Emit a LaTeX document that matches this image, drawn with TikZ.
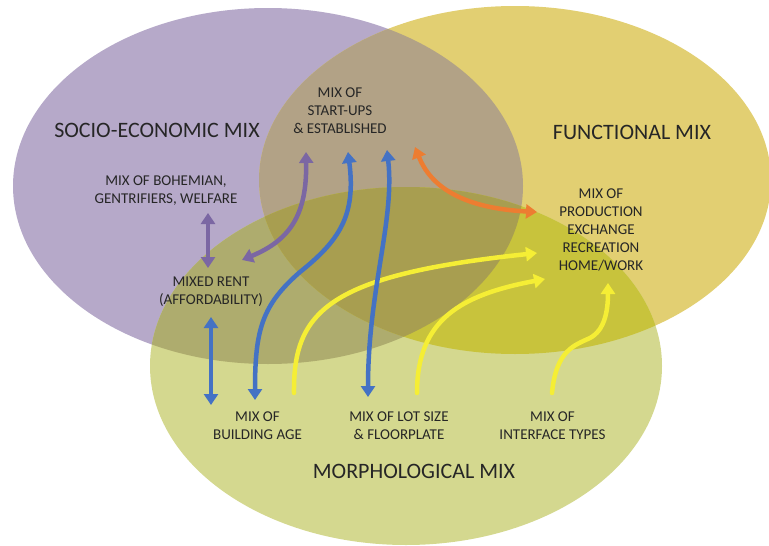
\documentclass[tikz,border=0pt]{standalone}
\usepackage{fontspec}
\setmainfont{Carlito}
\usetikzlibrary{arrows.meta}
\definecolor{cP}{HTML}{B6A9C9}
\definecolor{cY}{HTML}{E2CF72}
\definecolor{cG}{HTML}{D4D88F}
\definecolor{cPY}{HTML}{B2A286}
\definecolor{cPG}{HTML}{AEAC6E}
\definecolor{cYG}{HTML}{C8C33C}
\definecolor{cPYG}{HTML}{A89E50}
\definecolor{arP}{HTML}{7B67A3}
\definecolor{arB}{HTML}{4472C4}
\definecolor{arO}{HTML}{ED7D31}
\definecolor{arY}{HTML}{F5EE35}
\definecolor{txt}{HTML}{262626}
\begin{document}
\begin{tikzpicture}[x=1pt,y=-1pt,
  lbl/.style={font=\fontsize{15}{18}\selectfont, align=center, text=txt, inner sep=0pt},
  big/.style={font=\fontsize{22}{26}\selectfont, text=txt, inner sep=0pt},
  conn/.style={line width=4.5pt},
  dbl/.style={conn, {Triangle[width=14pt,length=11pt]}-{Triangle[width=14pt,length=11pt]}},
  sgl/.style={conn, line cap=round, -{Triangle[width=14pt,length=11pt]}}]
\useasboundingbox (0,0) rectangle (769,546);
\def\ellP{(268,186) ellipse [x radius=255, y radius=178]}
\def\ellY{(515,180) ellipse [x radius=256, y radius=174]}
\def\ellG{(406,366) ellipse [x radius=256, y radius=179]}
% circles
\fill[cP] \ellP;
\fill[cY] \ellY;
\fill[cG] \ellG;
\begin{scope}\clip \ellP; \fill[cPY] \ellY; \fill[cPG] \ellG; \end{scope}
\begin{scope}\clip \ellY; \fill[cYG] \ellG; \end{scope}
\begin{scope}\clip \ellP; \clip \ellY; \fill[cPYG] \ellG; \end{scope}
% titles
\node[big] (se) at (157,130) {SOCIO-ECONOMIC MIX};
\node[big] (fm) at (632,132) {FUNCTIONAL MIX};
\node[big] (mm) at (414,471) {MORPHOLOGICAL MIX};
% labels
\node[lbl] (su) at (340,111) {MIX OF\\START-UPS\\\& ESTABLISHED};
\node[lbl] (bo) at (166,191) {MIX OF BOHEMIAN,\\GENTRIFIERS, WELFARE};
\node[lbl] (mr) at (211,292) {MIXED RENT\\(AFFORDABILITY)};
\node[lbl] (pr) at (601,230) {MIX OF\\PRODUCTION\\EXCHANGE\\RECREATION\\HOME/WORK};
\node[lbl] (ba) at (257.5,426) {MIX OF\\BUILDING AGE};
\node[lbl] (ls) at (399,426) {MIX OF LOT SIZE\\\& FLOORPLATE};
\node[lbl] (it) at (552.5,426) {MIX OF\\INTERFACE TYPES};
% connector ends
\coordinate (a1s) at (208,213); \coordinate (a1e) at (208,268);
\coordinate (a2s) at (306,152); \coordinate (a2e) at (242,260);
\coordinate (a3s) at (211,317); \coordinate (a3e) at (211,405);
\coordinate (a4s) at (348,152); \coordinate (a4m) at (300,272); \coordinate (a4e) at (255,400);
\coordinate (a5s) at (387,150); \coordinate (a5e) at (368,397);
\coordinate (a6s) at (415,147); \coordinate (a6e) at (537,212);
\coordinate (a7s) at (294,393); \coordinate (a7e) at (537,253);
\coordinate (a8s) at (417,393); \coordinate (a8e) at (545,279);
\coordinate (a9s) at (552,393); \coordinate (a9m) at (590,338); \coordinate (a9e) at (608,283);
% connectors
\draw[dbl, arP] (a1s) -- (a1e);
\draw[dbl, arP] (a2s) .. controls (307,215) and (290,240) .. (a2e);
\draw[sgl, arY] (a7s) .. controls (293,310) and (330,275) .. (a7e);
\draw[sgl, arY] (a8s) .. controls (417,320) and (460,295) .. (a8e);
\draw[sgl, arY] (a9s) .. controls (556,350) and (575,345) .. (a9m) .. controls (605,330) and (608,310) .. (a9e);
\draw[dbl, arB] (a3s) -- (a3e);
\draw[dbl, arB] (a4s) .. controls (356,215) and (340,240) .. (a4m) .. controls (262,305) and (255,330) .. (a4e);
\draw[dbl, arB] (a5s) .. controls (395,220) and (368,290) .. (a5e);
\draw[dbl, arO] (a6s) .. controls (430,185) and (460,208) .. (a6e);
\end{tikzpicture}
\end{document}
